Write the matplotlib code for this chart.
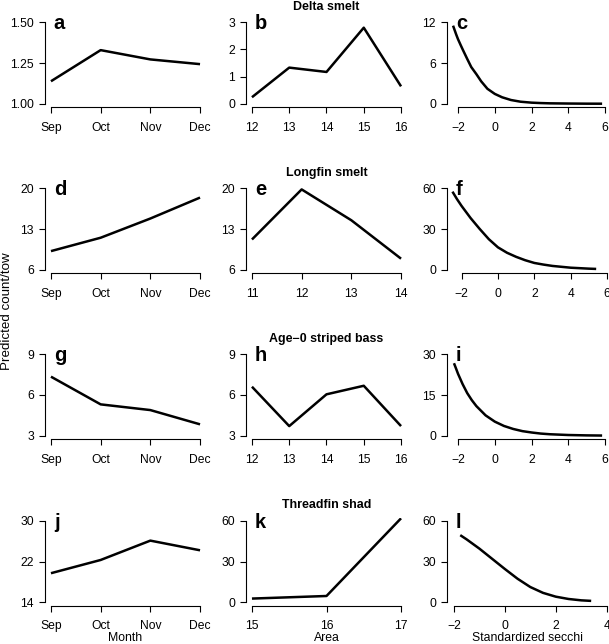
import numpy as np
import matplotlib
matplotlib.use('Agg')
import matplotlib.pyplot as plt

plt.rcParams['font.family'] = ['Liberation Sans', 'DejaVu Sans']

# Month effects (Sep..Dec)
months = ['Sep', 'Oct', 'Nov', 'Dec']
month_x = [1, 2, 3, 4]
delta_month = [1.138, 1.329, 1.272, 1.243]
longfin_month = [9.2, 11.5, 14.8, 18.4]
bass_month = [7.35, 5.31, 4.89, 3.84]
shad_month = [19.7, 22.3, 26.1, 24.2]

# Area effects
delta_area_x = [12, 13, 14, 15, 16]
delta_area = [0.24, 1.33, 1.17, 2.80, 0.64]
longfin_area_x = [11, 12, 13, 14]
longfin_area = [11.2, 19.8, 14.5, 7.9]
bass_area_x = [12, 13, 14, 15, 16]
bass_area = [6.61, 3.71, 6.05, 6.68, 3.71]
shad_area_x = [15, 16, 17]
shad_area = [2.7, 4.6, 61.8]

# Secchi effects
delta_secchi_x = [-2.27, -2.1, -2.0, -1.85, -1.73, -1.5, -1.28, -1.0, -0.74, -0.4, 0, 0.4,
                  0.88, 1.4, 2, 2.5, 3, 4, 5, 5.84]
delta_secchi = [11.5, 10.2, 9.5, 8.6, 7.9, 6.6, 5.4, 4.35, 3.3, 2.2, 1.45, 0.95,
                0.55, 0.3, 0.16, 0.1, 0.06, 0.03, 0.01, 0.005]
longfin_secchi_x = [-2.5, -2.25, -2, -1.5, -1, -0.5, 0, 0.5, 1, 1.5, 2, 2.5, 3, 4, 5, 5.4]
longfin_secchi = [57.5, 52, 47, 38, 30, 22.5, 16.5, 12.5, 9.5, 7, 5, 3.8, 2.8, 1.5, 0.8, 0.6]
bass_secchi_x = [-2.22, -2.1, -2, -1.75, -1.5, -1.25, -1, -0.5, 0, 0.5, 1, 1.5, 2, 2.5, 3, 4, 5, 5.84]
bass_secchi = [26.7, 24.6, 22.8, 19.0, 15.7, 13.1, 10.9, 7.5, 5.2, 3.6, 2.5, 1.7, 1.2, 0.8, 0.55,
               0.27, 0.13, 0.07]
shad_secchi_x = [-1.75, -1.5, -1, -0.5, 0, 0.5, 1, 1.5, 2, 2.5, 3, 3.39]
shad_secchi = [49.4, 46.3, 39.5, 32, 24.5, 17.3, 11.2, 6.9, 4.1, 2.4, 1.4, 1.0]

titles = ['Delta smelt', 'Longfin smelt', 'Age\u22120 striped bass', 'Threadfin shad']
letters = 'abcdefghijkl'

panels = [
    [(month_x, delta_month, months, (1.0, 1.5), [1.0, 1.25, 1.5], '%.2f'),
     (delta_area_x, delta_area, None, (0, 3), [0, 1, 2, 3], '%d'),
     (delta_secchi_x, delta_secchi, None, (0, 12), [0, 6, 12], '%d')],
    [(month_x, longfin_month, months, (6, 20), [6, 13, 20], '%d'),
     (longfin_area_x, longfin_area, None, (6, 20), [6, 13, 20], '%d'),
     (longfin_secchi_x, longfin_secchi, None, (0, 60), [0, 30, 60], '%d')],
    [(month_x, bass_month, months, (3, 9), [3, 6, 9], '%d'),
     (bass_area_x, bass_area, None, (3, 9), [3, 6, 9], '%d'),
     (bass_secchi_x, bass_secchi, None, (0, 30), [0, 15, 30], '%d')],
    [(month_x, shad_month, months, (14, 30), [14, 22, 30], '%d'),
     (shad_area_x, shad_area, None, (0, 60), [0, 30, 60], '%d'),
     (shad_secchi_x, shad_secchi, None, (0, 60), [0, 30, 60], '%d')],
]

# x limits and ticks per panel
xsets = [
    [((0.88, 4.12), month_x), ((11.84, 16.16), [12, 13, 14, 15, 16]), ((-2.6, 6.16), [-2, 0, 2, 4, 6])],
    [((0.88, 4.12), month_x), ((10.88, 14.12), [11, 12, 13, 14]), ((-2.8, 6.05), [-2, 0, 2, 4, 6])],
    [((0.88, 4.12), month_x), ((11.84, 16.16), [12, 13, 14, 15, 16]), ((-2.6, 6.16), [-2, 0, 2, 4, 6])],
    [((0.88, 4.12), month_x), ((14.92, 17.08), [15, 16, 17]), ((-2.27, 4.05), [-2, 0, 2, 4])],
]

W, H = 609, 644
fig = plt.figure(figsize=(W / 100, H / 100), dpi=100)
col_left = [45, 246, 447]
col_w = 161
row_top = [19, 185, 351, 517.5]
row_h = 88

k = 0
for r in range(4):
    for c in range(3):
        x, y, xlabs, ylim, yt, fmt = panels[r][c]
        (xl, xt) = xsets[r][c]
        ax = fig.add_axes([col_left[c] / W, 1 - (row_top[r] + row_h) / H, col_w / W, row_h / H])
        ax.plot(x, y, color='black', lw=1.8, solid_joinstyle='round', solid_capstyle='butt')
        pad = 0.04 * (ylim[1] - ylim[0])
        ax.set_ylim(ylim[0] - pad, ylim[1] + pad)
        ax.set_xlim(xl)
        ax.set_yticks(yt)
        ax.set_yticklabels([fmt % v for v in yt])
        ax.set_xticks(xt)
        if xlabs is not None:
            ax.set_xticklabels(xlabs)
        else:
            ax.set_xticklabels([str(v).replace('-', '\u2212') for v in xt])
        for s in ['top', 'right']:
            ax.spines[s].set_visible(False)
        ax.spines['left'].set_bounds(yt[0], yt[-1])
        ax.spines['bottom'].set_bounds(max(xt[0], xl[0]), min(xt[-1], xl[1]))
        for s in ['left', 'bottom']:
            ax.spines[s].set_linewidth(0.8)
        ax.tick_params(direction='out', length=4, width=0.8, labelsize=8.7, colors='black')
        ax.tick_params(axis='y', pad=4)
        ax.tick_params(axis='x', pad=6.5)
        ax.text(0.055, 0.886, letters[k], transform=ax.transAxes, fontsize=14.5,
                fontweight='bold', va='baseline', ha='left')
        if c == 1:
            ax.set_title(titles[r], fontsize=8.9, fontweight='bold', pad=6.5)
        if r == 3:
            ax.set_xlabel(['Month', 'Area', 'Standardized secchi'][c], fontsize=8.8, labelpad=0)
        k += 1

fig.text(7 / W, 1 - 311 / H, 'Predicted count/tow', rotation=90, fontsize=9.6,
         ha='center', va='center')

fig.savefig('out.png', dpi=100)
